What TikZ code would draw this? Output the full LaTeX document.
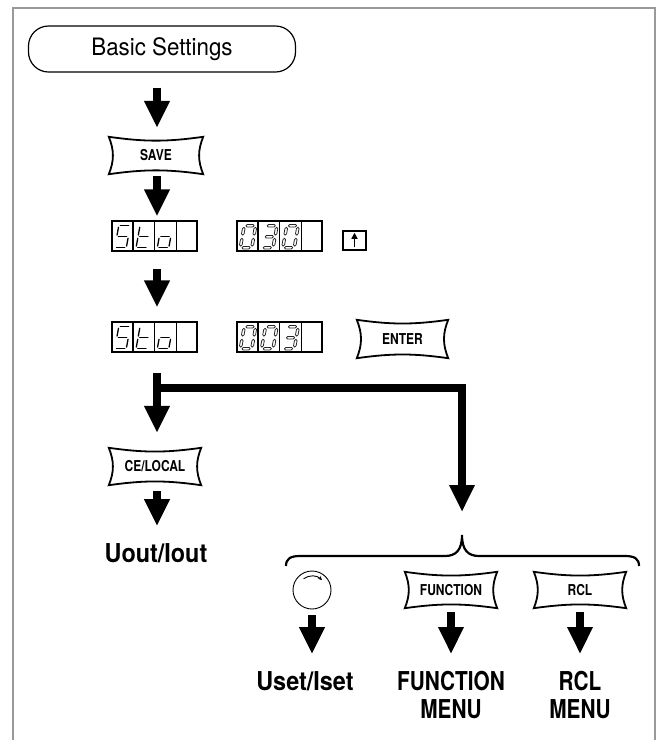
\documentclass[tikz,border=0pt]{standalone}
\usepackage{fontspec}
\setmainfont{TeX Gyre Heros}
\newfontfamily\hreg[FakeStretch=0.93]{TeX Gyre Heros}
\newfontfamily\hcond[FakeStretch=0.8]{TeX Gyre Heros}
\newfontfamily\hmid[FakeStretch=0.9]{TeX Gyre Heros}
\usetikzlibrary{arrows.meta,calc}

% single-line segments
\def\sgXa{(1.6,22)--(9.9,22)}
\def\sgXb{(11.5,20.4)--(11.5,12.6)}
\def\sgXc{(11.5,9.4)--(11.5,1.6)}
\def\sgXd{(1.6,0)--(9.9,0)}
\def\sgXe{(0,1.6)--(0,9.4)}
\def\sgXf{(0,12.6)--(0,20.4)}
\def\sgXg{(1.6,11)--(9.9,11)}
% hollow segments
\def\sgYa{(1.6,22)--(2.9,23.3)--(8.6,23.3)--(9.9,22)--(8.6,20.7)--(2.9,20.7)--cycle}
\def\sgYd{(1.6,0)--(2.9,1.3)--(8.6,1.3)--(9.9,0)--(8.6,-1.3)--(2.9,-1.3)--cycle}
\def\sgYg{(1.6,11)--(2.9,12.3)--(8.6,12.3)--(9.9,11)--(8.6,9.7)--(2.9,9.7)--cycle}
\def\sgYb{(11.5,12.6)--(12.8,13.9)--(12.8,19.1)--(11.5,20.4)--(10.2,19.1)--(10.2,13.9)--cycle}
\def\sgYc{(11.5,1.6)--(12.8,2.9)--(12.8,8.1)--(11.5,9.4)--(10.2,8.1)--(10.2,2.9)--cycle}
\def\sgYe{(0,1.6)--(1.3,2.9)--(1.3,8.1)--(0,9.4)--(-1.3,8.1)--(-1.3,2.9)--cycle}
\def\sgYf{(0,12.6)--(1.3,13.9)--(1.3,19.1)--(0,20.4)--(-1.3,19.1)--(-1.3,13.9)--cycle}
\newcommand\segdigit[4]{%
  \begin{scope}[shift={#1}, xslant=0.18]
    \foreach \s in {#2}{\edef\tmp{\noexpand\draw[#3] \csname sg#4\s\endcsname;}\tmp}
  \end{scope}}

\tikzset{
  fat/.style={line width=8pt, -{Triangle[width=24pt,length=27pt]}},
  btnline/.style={line width=1.8pt, line join=miter},
  btn/.style={font=\hcond\bfseries\fontsize{15}{17}\selectfont, minimum width=92pt, minimum height=37pt, inner sep=0pt},
  biglabel/.style={font=\hcond\bfseries\fontsize{26}{28}\selectfont, align=center, inner sep=0pt},
  midlabel/.style={font=\hmid\bfseries\fontsize{26}{28}\selectfont, align=center, inner sep=0pt},
  disp/.style={draw, line width=1.4pt, minimum width=85pt, minimum height=30pt, inner sep=0pt},
  segS/.style={line width=1.3pt, line cap=round},
  segH/.style={line width=0.8pt, draw=black!85, line join=round},
  frame/.style={draw=black!40, line width=1.5pt},
}

\begin{document}
\begin{tikzpicture}[x=1pt,y=1pt]
\useasboundingbox (0,0) rectangle (661,-740);
\draw[frame] (13,-740) -- (13,-8) -- (655,-8) -- (655,-740);

\coordinate (col) at (157,0);

\node[draw, rounded corners=20pt, line width=1.2pt, minimum width=267pt, minimum height=46pt,
      font=\hreg\fontsize{24}{28}\selectfont] (basic) at (162,-49) {Basic Settings};

\node[btn, minimum width=94pt] (save) at (156,-155.5) {SAVE};

\node[disp] (d1) at (154.5,-236) {};
\node[disp] (d2) at (279.5,-236) {};
\node[draw, line width=1.5pt, minimum width=23pt, minimum height=19pt, inner sep=0pt] (upkey) at (354.5,-240.5) {};
\node[disp] (d3) at (154.5,-337) {};
\node[disp] (d4) at (279.5,-337) {};
\node[btn, minimum width=91pt, minimum height=38pt] (enter) at (402.5,-339) {ENTER};

\node[btn] (ce) at (155,-466.5) {CE/LOCAL};
\node[midlabel] (uout) at (156,-553) {Uout/Iout};

\node[circle, draw, line width=0.9pt, minimum size=38pt, inner sep=0pt] (knob) at (312,-590) {};
\node[btn, minimum height=36pt] (func) at (451,-590) {FUNCTION};
\node[btn, minimum height=36pt] (rcl) at (580,-590) {RCL};

\node[midlabel] (uset) at (305,-681) {Uset/Iset};
\node[biglabel] (fmenu) at (451,-695) {FUNCTION\\MENU};
\node[biglabel] (rmenu) at (580,-695) {RCL\\MENU};

% button outlines
\foreach \n in {save,enter,ce,func,rcl}
  \draw[btnline] (\n.north west) to[bend right=8] (\n.north east) to[bend right=22] (\n.south east)
      to[bend right=8] (\n.south west) to[bend right=22] cycle;

% display cells
\foreach \d in {d1,d2,d3,d4}
  \foreach \k in {1,2,3}
    \draw[line width=1.2pt] ($(\d.south west)!\k/4!(\d.south east)$) -- ($(\d.north west)!\k/4!(\d.north east)$);

% Sto
\foreach \d in {d1,d3}{
  \segdigit{($(\d.south west)+(3.5,4)$)}{a,f,g,c,d}{segS}{X}
  \segdigit{($(\d.south west)+(24.75,4)$)}{f,e,g,d}{segS}{X}
  \segdigit{($(\d.south west)+(46,4)$)}{g,c,d,e}{segS}{X}
}
% 030
\segdigit{($(d2.south west)+(4,4)$)}{a,b,c,d,e,f}{segH}{Y}
\segdigit{($(d2.south west)+(25.25,4)$)}{a,b,c,d,g}{segH}{Y}
\segdigit{($(d2.south west)+(46.5,4)$)}{a,b,c,d,e,f}{segH}{Y}
% 003
\segdigit{($(d4.south west)+(4,4)$)}{a,b,c,d,e,f}{segH}{Y}
\segdigit{($(d4.south west)+(25.25,4)$)}{a,b,c,d,e,f}{segH}{Y}
\segdigit{($(d4.south west)+(46.5,4)$)}{a,b,c,d,g}{segH}{Y}

% up key arrow
\draw[line width=1.6pt, -{Triangle[width=6pt,length=6pt]}] ($(upkey.south)+(0,3.5)$) -- ($(upkey.north)+(0,-2.5)$);

% knob arrow
\draw[line width=0.9pt, -{Stealth[length=4pt,width=4pt]}] ($(knob.center)+(127:14)$) arc[start angle=127, end angle=45, radius=14];

% arrows
\draw[fat, shorten <=15pt, shorten >=9pt] (col |- basic.south) -- (col |- save.north);
\draw[fat, shorten <=2pt, shorten >=4pt] (col |- save.south) -- (col |- d1.north);
\draw[fat, shorten <=17pt, shorten >=14pt] (col |- d1.south) -- (col |- d3.north);

\coordinate (split) at ($(col |- d3.south)+(0,-20)$);
\coordinate (jl) at (157,-388);
\coordinate (cusp) at (462,-535);
\draw[fat, shorten >=15pt] (split) -- (col |- ce.north);
\draw[fat, shorten >=23pt] (jl) -| (cusp);

% brace
\draw[line width=2.2pt] (286,-566) .. controls (286,-559) and (290,-556) .. (300,-556) -- (445,-556)
   .. controls (456,-556) and (462,-550) .. (cusp)
   .. controls (462,-550) and (468,-556) .. (479,-556) -- (625,-556)
   .. controls (635,-556) and (639,-559) .. (639,-566);

\draw[fat, shorten <=6pt, shorten >=17pt] (col |- ce.south) -- (col |- uout.north);
\draw[fat, shorten <=6pt, shorten >=17pt] (knob.south) -- (knob.south |- uset.north);
\draw[fat, shorten <=4pt, shorten >=17pt] (func.south) -- (func.south |- fmenu.north);
\draw[fat, shorten <=4pt, shorten >=17pt] (rcl.south) -- (rcl.south |- rmenu.north);
\end{tikzpicture}
\end{document}
